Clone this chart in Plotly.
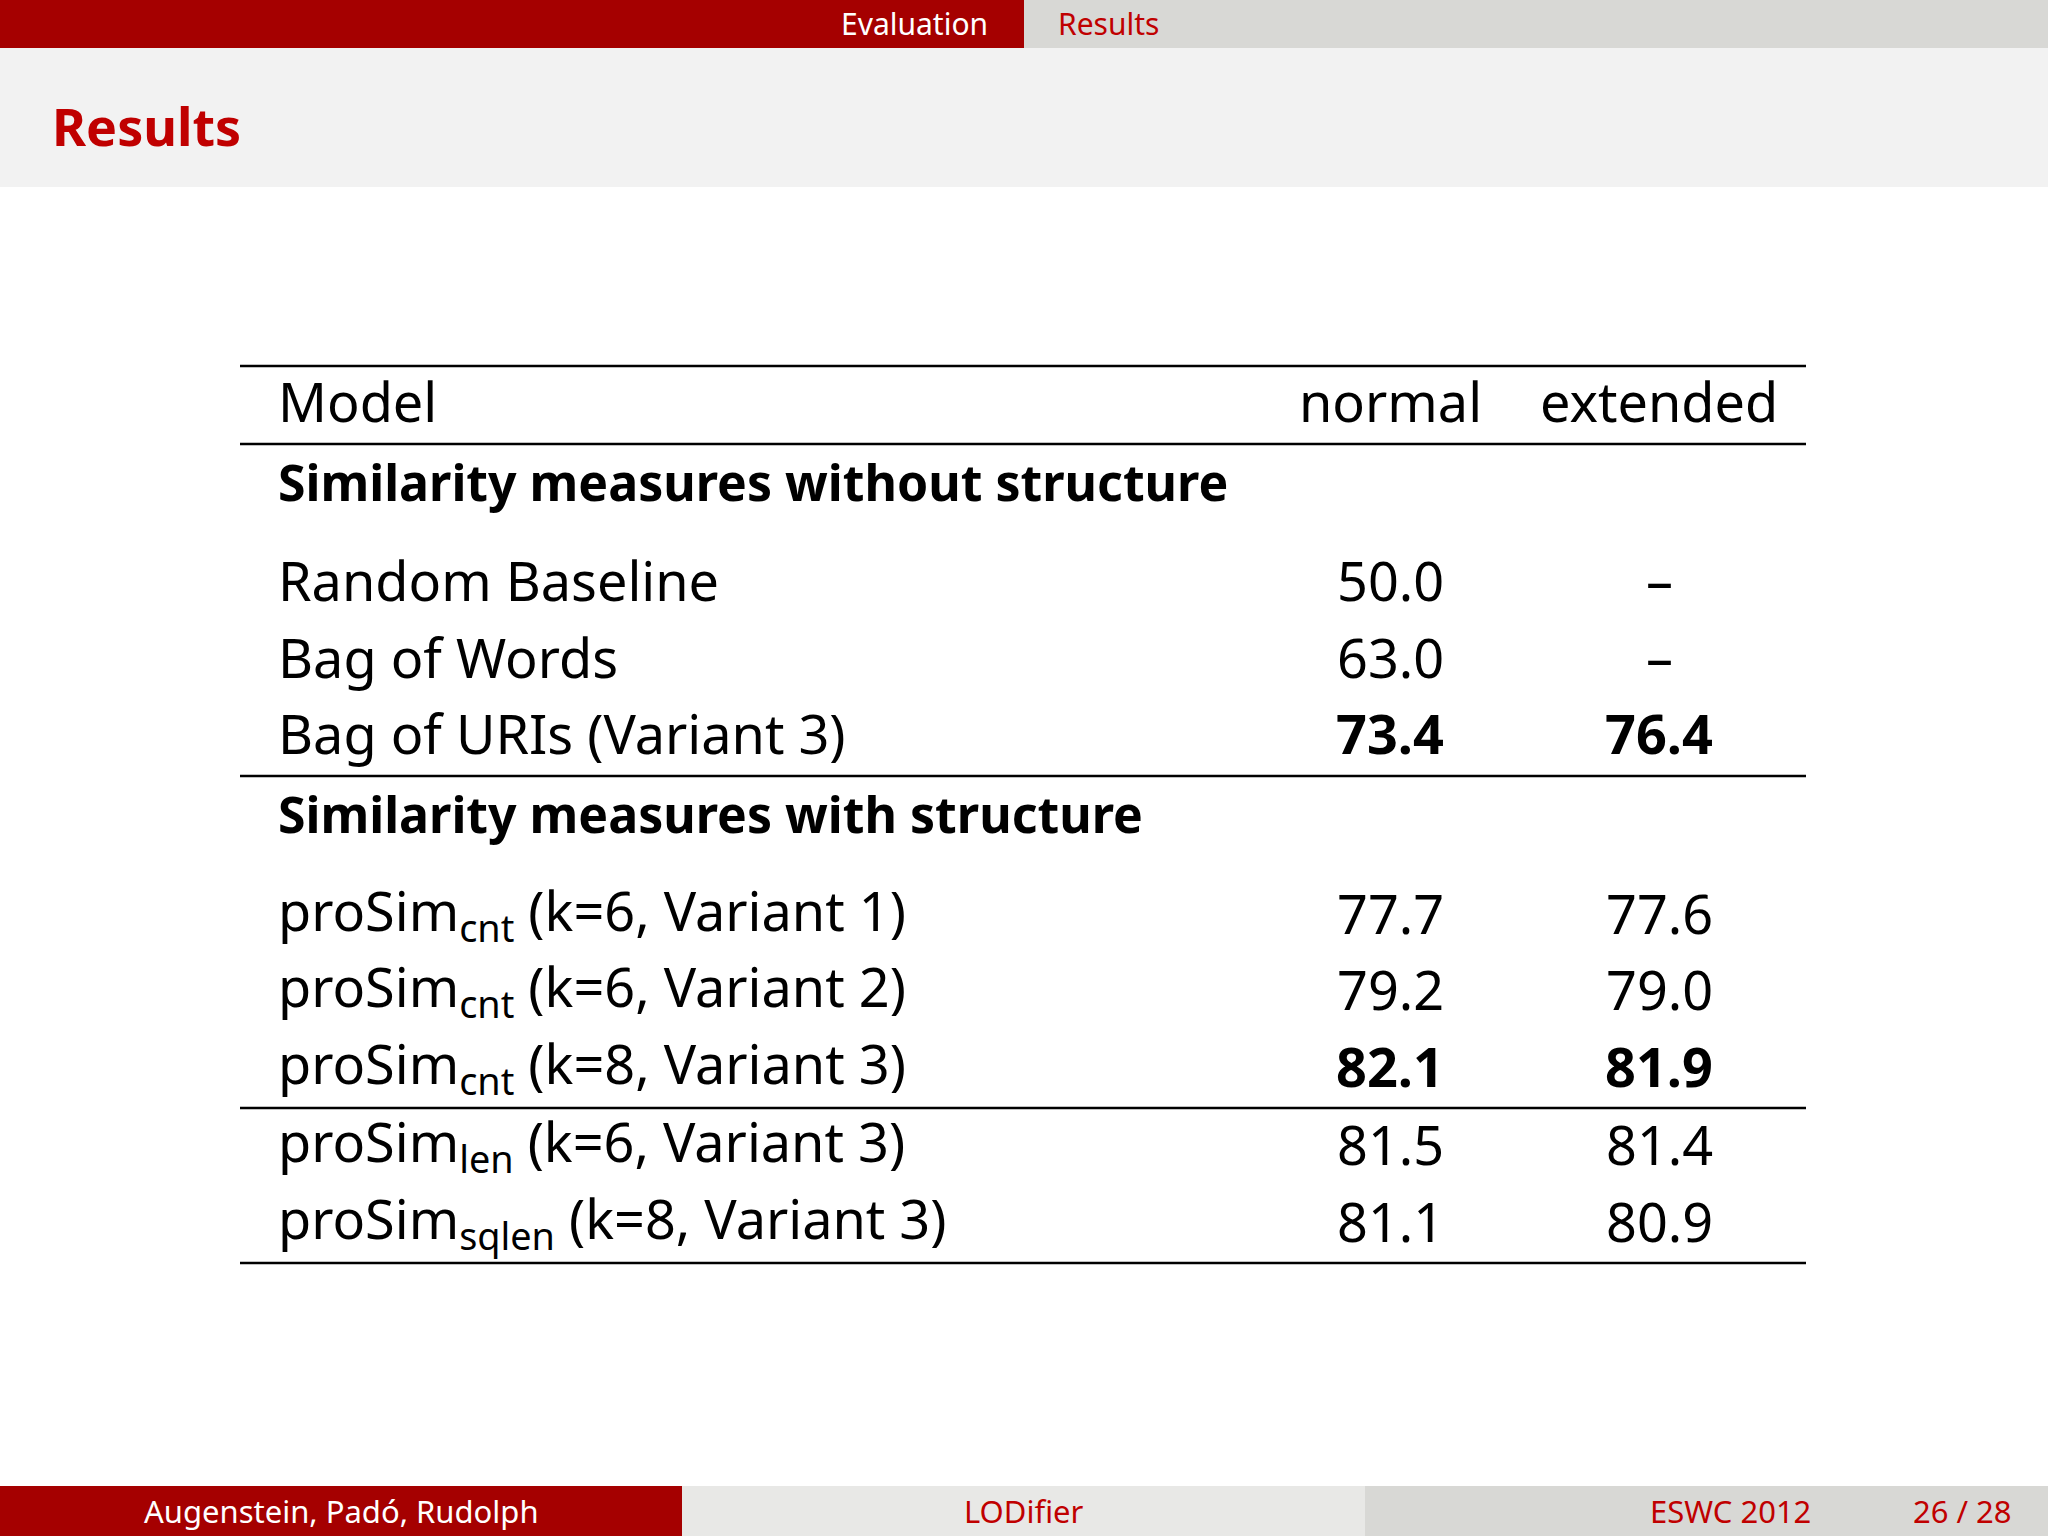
import plotly.graph_objects as go

W, H = 2048, 1536
RED = "#a50000"
TXT = "#c00000"

models = ["Random Baseline", "Bag of Words", "Bag of URIs (Variant 3)",
          "proSim<sub>cnt</sub> (k=6, Variant 1)", "proSim<sub>cnt</sub> (k=6, Variant 2)",
          "proSim<sub>cnt</sub> (k=8, Variant 3)", "proSim<sub>len</sub> (k=6, Variant 3)",
          "proSim<sub>sqlen</sub> (k=8, Variant 3)"]
normal = ["50.0", "63.0", "73.4", "77.7", "79.2", "82.1", "81.5", "81.1"]
extended = ["–", "–", "76.4", "77.6", "79.0", "81.9", "81.4", "80.9"]
bold = [False, False, True, False, False, True, False, False]
sections = ["Similarity measures without structure", "Similarity measures with structure"]

row_y = [580, 657, 733, 913, 989, 1066, 1144, 1221]
sec_y = [482, 814]
rule_y = [366, 444, 776, 1108, 1263]

fig = go.Figure()
shapes = []
def rect(x0, y0, x1, y1, c):
    shapes.append(dict(type="rect", xref="x", yref="y", x0=x0, y0=y0, x1=x1, y1=y1,
                       fillcolor=c, line=dict(width=0), layer="below"))
rect(0, 0, 1024, 48, RED)
rect(1024, 0, W, 48, "#d8d8d5")
rect(0, 48, W, 187, "#f2f2f2")
rect(0, 1486, 682, H, RED)
rect(682, 1486, 1365, H, "#e8e8e6")
rect(1365, 1486, W, H, "#d8d8d5")
for y in rule_y:
    shapes.append(dict(type="line", xref="x", yref="y", x0=240, x1=1806, y0=y, y1=y,
                       line=dict(color="black", width=2.5)))

ann = []
F = "Noto Sans"
def t(x, y, s, size, color="black", anchor="left", b=False):
    ann.append(dict(x=x, y=y, xref="x", yref="y", text=f"<b>{s}</b>" if b else s,
                    showarrow=False, xanchor=anchor, yanchor="middle",
                    font=dict(family=F, size=size, color=color)))

t(914, 23, "Evaluation", 30, "white", "center")
t(1108, 23, "Results", 30, TXT, "center")
t(50, 125, "Results", 52, TXT, "left", True)
t(276, 401, "Model", 54)
t(1390, 401, "normal", 54, anchor="center")
t(1659, 401, "extended", 54, anchor="center")
for s, y in zip(sections, sec_y):
    t(276, y, s, 50, b=True)
for m, n, e, b, y in zip(models, normal, extended, bold, row_y):
    t(276, y, m, 54)
    t(1390, y, n, 54, anchor="center", b=b)
    t(1659, y, e, 54, anchor="center", b=b)
t(341, 1511, "Augenstein, Padó, Rudolph", 31, "white", "center")
t(1024, 1511, "LODifier", 31, TXT, "center")
t(1730, 1511, "ESWC 2012", 31, TXT, "center")
t(1962, 1511, "26 / 28", 31, TXT, "center")

fig.update_layout(width=W, height=H, margin=dict(l=0, r=0, t=0, b=0),
                  paper_bgcolor="white", plot_bgcolor="white",
                  shapes=shapes, annotations=ann, showlegend=False,
                  xaxis=dict(range=[0, W], visible=False, fixedrange=True),
                  yaxis=dict(range=[H, 0], visible=False, fixedrange=True))
fig.write_html("out.html", config={"displayModeBar": False},
               post_script="document.body.style.margin='0';document.body.style.overflow='hidden';")
